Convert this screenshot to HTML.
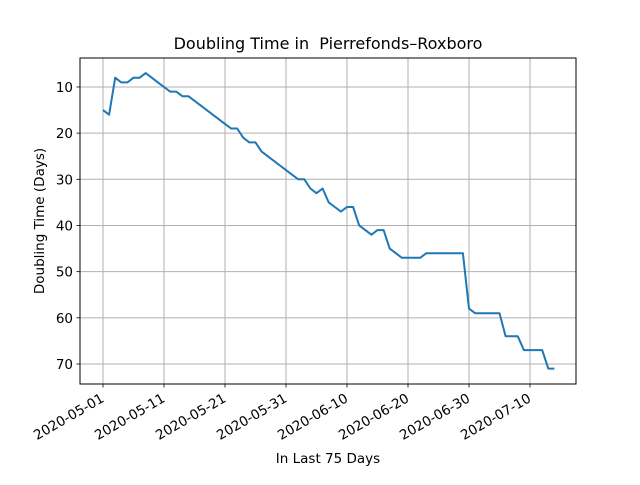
<!DOCTYPE html>
<html><head><meta charset="utf-8"><style>
body{margin:0;background:#fff}
svg text{font-family:"DejaVu Sans","Liberation Sans",sans-serif;fill:#000}
</style></head><body>
<svg id="chart" width="640" height="480" xmlns="http://www.w3.org/2000/svg">
<rect width="640" height="480" fill="#fff"/>
<g id="grid"></g>
<g id="ticks"></g>
<path id="line" fill="none" stroke="#1f77b4" stroke-width="2" stroke-linejoin="round"/>
<rect x="80" y="58" width="496" height="326" fill="none" stroke="#000" stroke-width="1"/>
<text x="328" y="49" font-size="16" text-anchor="middle">Doubling Time in&#160; Pierrefonds–Roxboro</text>
<text x="328" y="463" font-size="13.5" text-anchor="middle">In Last 75 Days</text>
<text transform="translate(44,221) rotate(-90)" font-size="13.5" text-anchor="middle">Doubling Time (Days)</text>
</svg>
<script>
const values=[15,16,8,9,9,8,8,7,8,9,10,11,11,12,12,13,14,15,16,17,18,19,19,21,22,22,24,25,26,27,28,29,30,30,32,33,32,35,36,37,36,36,40,41,42,41,41,45,46,47,47,47,47,46,46,46,46,46,46,46,58,59,59,59,59,59,64,64,64,67,67,67,67,71,71];
const xTickLabels=["2020-05-01","2020-05-11","2020-05-21","2020-05-31","2020-06-10","2020-06-20","2020-06-30","2020-07-10"];
const xTickDays=[0,10,20,30,40,50,60,70];
const yTicks=[10,20,30,40,50,60,70];
const NS="http://www.w3.org/2000/svg";
const xs=d=>103+6.1*d;
const ys=v=>40.8+4.617*v;
const grid=document.getElementById('grid'),ticks=document.getElementById('ticks');
function mk(tag,attrs,parent){const e=document.createElementNS(NS,tag);for(const k in attrs)e.setAttribute(k,attrs[k]);parent.appendChild(e);return e;}
xTickDays.forEach((d,i)=>{
 const x=xs(d);
 const g=mk('line',{x1:x,x2:x,y1:58,y2:384,stroke:'#b0b0b0','stroke-width':1},grid);
 
 
 const t=mk('line',{x1:x,x2:x,y1:384,y2:387.5,stroke:'#000','stroke-width':0.8},ticks);
 
 
 const l=mk('text',{x:x+2,y:401,'font-size':13.5,'text-anchor':'end',transform:`rotate(-30 ${x+2} 401)`},ticks);
 l.textContent=xTickLabels[i];
 
 
});
yTicks.forEach(v=>{
 const y=ys(v);
 const g=mk('line',{x1:80,x2:576,y1:y,y2:y,stroke:'#b0b0b0','stroke-width':1},grid);
 
 
 const t=mk('line',{x1:76.5,x2:80,y1:y,y2:y,stroke:'#000','stroke-width':0.8},ticks);
 
 
 const l=mk('text',{x:73,y:y+5,'font-size':13.5,'text-anchor':'end'},ticks);
 l.textContent=v;
 
 
});
document.getElementById('line').setAttribute('d',values.map((v,i)=>(i?'L':'M')+xs(i).toFixed(1)+','+ys(v).toFixed(1)).join(''));
</script>
</body></html>
